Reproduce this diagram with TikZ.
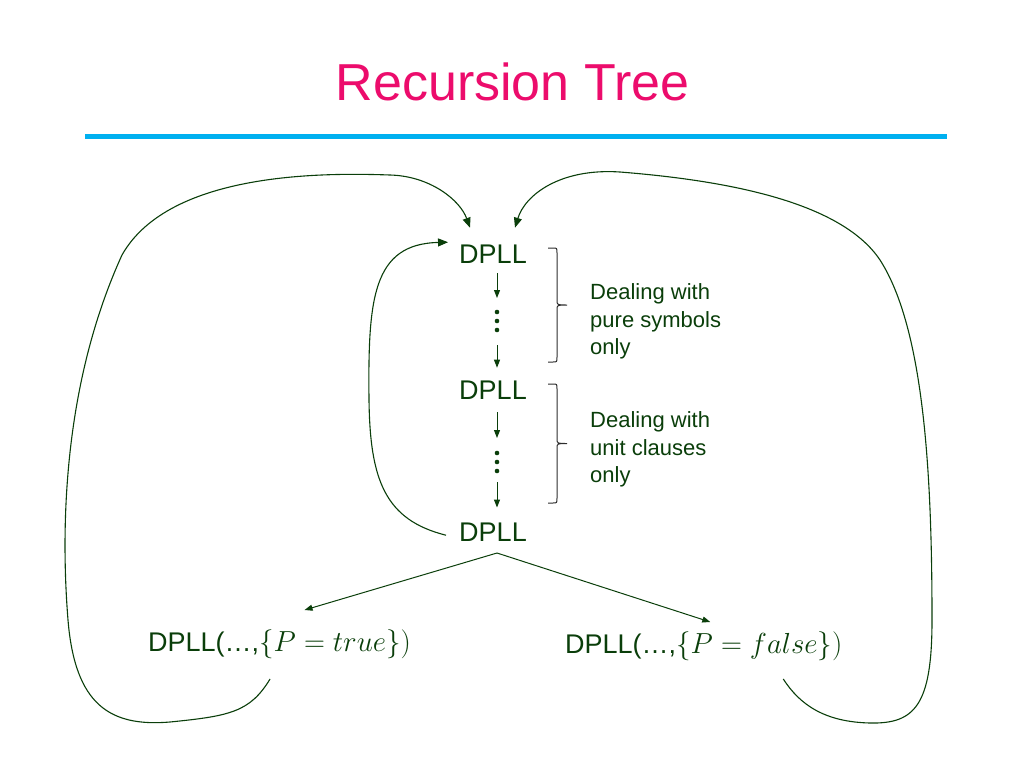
\RequirePackage{fix-cm}
\documentclass[tikz,border=0pt]{standalone}
\usepackage{fontspec}
\setmainfont{Liberation Sans}
\usetikzlibrary{arrows.meta,calc}
\definecolor{dg}{RGB}{10,62,10}
\definecolor{ttl}{RGB}{236,12,108}
\definecolor{rulec}{RGB}{0,176,240}
\definecolor{brc}{RGB}{45,45,45}
\newcommand{\bigmath}[1]{{\fontsize{29}{32}\selectfont$#1$}}
\tikzset{
  dp/.style={anchor=base, inner sep=0pt, text=dg, font=\fontsize{27}{32}\selectfont},
  big/.style={anchor=base west, inner sep=0pt, text=dg, font=\fontsize{27}{32}\selectfont},
  lbl/.style={anchor=north west, inner sep=0pt, text=dg, align=left, font=\fontsize{22}{27.5}\selectfont},
  dotcol/.style={minimum height=26pt, minimum width=4pt, inner sep=0pt, outer sep=0pt},
  sarr/.style={draw=dg, line width=1pt, -{Triangle[length=8pt,width=6pt]}},
  larr/.style={draw=dg, line width=1.1pt, -{Triangle[length=10pt,width=8pt]}},
  brace/.style={draw=brc, line width=1pt},
}
\begin{document}
\begin{tikzpicture}[x=1pt,y=-1pt]
\useasboundingbox (0,0) rectangle (1024,768);
% title
\node[text=ttl, inner sep=0pt, font=\fontsize{52}{60}\selectfont] (title) at (512.5,82) {Recursion Tree};
\draw[rulec, line width=5pt] (85,136.5) -- (947,136.5);

% DPLL chain
\node[dp] (d1) at (493,263.5) {DPLL};
\node[dp] (d2) at (493,399.5) {DPLL};
\node[dp] (d3) at (493,541) {DPLL};
\node[dotcol] (v1) at (497,321) {};
\node[dotcol] (v2) at (497,462) {};
\foreach \v in {v1,v2}{
  \fill[dg] ($(\v)+(0,-9)$) circle (2.3pt);
  \fill[dg] (\v) circle (2.3pt);
  \fill[dg] ($(\v)+(0,9)$) circle (2.3pt);
}
\draw[sarr, shorten <=9.5pt, shorten >=10pt] (d1.south -| v1.north) -- (v1.north);
\draw[sarr, shorten <=11pt, shorten >=13pt] (v1.south) -- (d2.north -| v1.south);
\draw[sarr, shorten <=12.5pt, shorten >=11pt] (d2.south -| v2.north) -- (v2.north);
\draw[sarr, shorten <=7pt, shorten >=14.7pt] (v2.south) -- (d3.north -| v2.south);

% braces and labels
\draw[brace] (548,248) -- (553,248) .. controls (557,248) .. (557,253) -- (557,300)
  .. controls (557,305) .. (567,305) .. controls (557,305) .. (557,310) -- (557,357)
  .. controls (557,362) .. (553,362) -- (548,362);
\draw[brace] (548,384) -- (553,384) .. controls (557,384) .. (557,389) -- (557,438.5)
  .. controls (557,443.5) .. (567,443.5) .. controls (557,443.5) .. (557,448.5) -- (557,498)
  .. controls (557,503) .. (553,503) -- (548,503);
\node[lbl] (l1) at (590,283.5) {Dealing with\\pure symbols\\only};
\node[lbl] (l2) at (590,411.5) {Dealing with\\unit clauses\\only};

% bottom calls
\node[big] (t1) at (148,651) {DPLL(…,\bigmath{\{P=true\})}};
\node[big] (t2) at (565,653) {DPLL(…,\bigmath{\{P=false\})}};

% branch arrows
\draw[sarr] ($(d3.base)+(4,12)$) -- ($(t1.base)+(25,-41)$);
\draw[sarr] ($(d3.base)+(4,12)$) -- ($(t2.base)+(6.5,-31)$);

% inner loop
\draw[larr] ($(d3.west)+(-13,3.5)$) .. controls (385,520) and (370,480) .. (369,400)
  .. controls (368,300) and (372,244) .. ($(d1.west)+(-11,-12)$);

% left big loop
\draw[larr] ($(t1.base)+(-9.5,28)$) .. controls (250,712) and (230,716) .. (170,722)
  .. controls (110,727) and (75,705) .. (68,620)
  .. controls (60,520) and (65,380) .. (122,255)
  .. controls (170,170) and (330,173) .. (390,175)
  .. controls (430,176) and (460,200) .. ($(d1.north)+(-23,-17)$);

% right big loop
\draw[larr] ($(t2.base)+(79.5,26)$) .. controls (800,705) and (825,722) .. (870,723)
  .. controls (915,724) and (932,705) .. (932,620)
  .. controls (932,480) and (925,330) .. (880,260)
  .. controls (840,200) and (720,180) .. (620,172)
  .. controls (560,168) and (525,195) .. ($(d1.north)+(22,-17)$);
\end{tikzpicture}
\end{document}
